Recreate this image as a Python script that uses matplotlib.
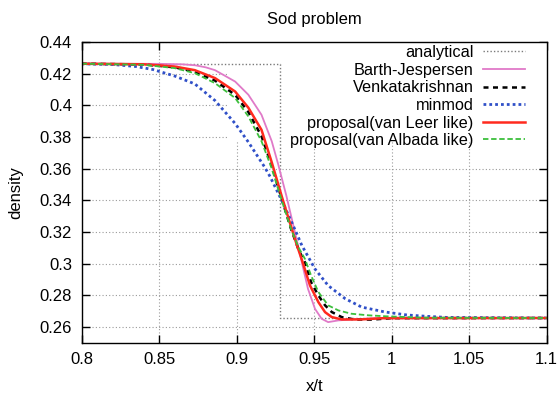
import matplotlib
matplotlib.use('Agg')
import matplotlib.pyplot as plt
from matplotlib.patches import Rectangle

plt.rcParams['font.family'] = ['Liberation Sans', 'DejaVu Sans']

# analytical solution
x_exact = [0.80, 0.9277, 0.9277, 1.10]
rho_exact = [0.4263, 0.4263, 0.2656, 0.2656]

# Barth-Jespersen
x_bj = [0.80, 0.85, 0.865, 0.8732, 0.880, 0.886, 0.899, 0.9075, 0.916, 0.9226, 0.9268, 0.932,
        0.938, 0.942, 0.946, 0.9505, 0.9548, 0.959, 0.9656, 0.976, 0.99, 1.10]
rho_bj = [0.4263, 0.4262, 0.4259, 0.4253, 0.4240, 0.4222, 0.4150, 0.4067, 0.3940, 0.3773, 0.3626, 0.3430,
          0.3180, 0.3008, 0.2840, 0.2714, 0.2651, 0.2630, 0.2641, 0.2648, 0.2655, 0.2656]

# Venkatakrishnan
x_vk = [0.80, 0.84, 0.86, 0.873, 0.886, 0.899, 0.9075, 0.916, 0.9226, 0.929, 0.935,
        0.940, 0.944, 0.948, 0.9527, 0.957, 0.9613, 0.9677, 0.9763, 0.987, 1.0, 1.10]
rho_vk = [0.4263, 0.4258, 0.4240, 0.4212, 0.4156, 0.4066, 0.3958, 0.3805, 0.3620, 0.3410, 0.3220,
          0.3085, 0.3008, 0.2882, 0.2799, 0.2736, 0.2694, 0.2662, 0.2646, 0.2646, 0.2655, 0.2656]

# minmod
x_mm = [0.80, 0.82, 0.835, 0.846, 0.86, 0.873, 0.886, 0.899, 0.9075, 0.918, 0.9215, 0.930,
        0.9387, 0.942, 0.9505, 0.959, 0.97, 0.9806, 0.9957, 1.01, 1.022, 1.035, 1.10]
rho_mm = [0.4262, 0.4258, 0.4245, 0.4226, 0.4185, 0.4135, 0.4030, 0.3885, 0.3768, 0.3610, 0.3550, 0.3380,
          0.3190, 0.3115, 0.2966, 0.2861, 0.2778, 0.2725, 0.2694, 0.2675, 0.2667, 0.2660, 0.2656]

# proposal (van Leer like)
x_vl = [0.80, 0.84, 0.86, 0.873, 0.886, 0.899, 0.9075, 0.916, 0.9226, 0.9292, 0.9333,
        0.9387, 0.942, 0.9473, 0.9527, 0.957, 0.9613, 0.9677, 0.98, 0.995, 1.10]
rho_vl = [0.4263, 0.4259, 0.4245, 0.4222, 0.4172, 0.4087, 0.3985, 0.3845, 0.3640, 0.3420, 0.3290,
          0.3120, 0.3025, 0.2861, 0.2756, 0.2693, 0.2662, 0.2647, 0.2647, 0.2655, 0.2656]

# proposal (van Albada like)
x_va = [0.80, 0.84, 0.86, 0.873, 0.886, 0.899, 0.9075, 0.916, 0.9226, 0.929, 0.935,
        0.940, 0.944, 0.948, 0.9527, 0.959, 0.9656, 0.974, 0.985, 0.996, 1.02, 1.10]
rho_va = [0.4263, 0.4256, 0.4235, 0.4203, 0.4140, 0.4046, 0.3930, 0.3773, 0.3600, 0.3400, 0.3220,
          0.3100, 0.3030, 0.2924, 0.2820, 0.2736, 0.2704, 0.2683, 0.2673, 0.2667, 0.2658, 0.2656]

xticks = [0.8, 0.85, 0.9, 0.95, 1.0, 1.05, 1.1]
xticklabels = ['0.8', '0.85', '0.9', '0.95', '1', '1.05', '1.1']
yticks = [0.26, 0.28, 0.30, 0.32, 0.34, 0.36, 0.38, 0.40, 0.42, 0.44]
yticklabels = ['0.26', '0.28', '0.3', '0.32', '0.34', '0.36', '0.38', '0.4', '0.42', '0.44']

fig = plt.figure(figsize=(5.58, 3.94), dpi=100)
ax = fig.add_axes([0.1464, 0.1302, 0.8334, 0.7632])

ax.plot(x_exact, rho_exact, color='#7a7a7a', lw=1.0, ls=(0, (1, 1.5)), label='analytical')
ax.plot(x_bj, rho_bj, color='#e07ac8', lw=1.3, label='Barth-Jespersen')
ax.plot(x_vk, rho_vk, color='black', lw=1.8, ls=(0, (2, 1.8)), label='Venkatakrishnan')
ax.plot(x_mm, rho_mm, color='#3050c8', lw=2.0, ls=(0, (1, 1.1)), label='minmod')
ax.plot(x_vl, rho_vl, color='#ff2a1e', lw=1.8, label='proposal(van Leer like)')
ax.plot(x_va, rho_va, color='#3cbf3c', lw=1.3, ls=(0, (3, 1.5)), label='proposal(van Albada like)')

ax.set_xlim(0.8, 1.1)
ax.set_ylim(0.25, 0.44)
ax.set_xticks(xticks)
ax.set_xticklabels(xticklabels)
ax.set_yticks(yticks)
ax.set_yticklabels(yticklabels)
ax.tick_params(direction='in', top=True, right=True, length=6, width=1,
               labelsize=12, pad=7)
for s in ax.spines.values():
    s.set_linewidth(1.0)

ax.set_axisbelow(True)
ax.grid(True, color='#9a9a9a', lw=0.8, ls=(0, (1, 2)))
# key area hides the grid (gnuplot style)
ax.add_patch(Rectangle((0.315, 0.667), 0.685, 0.333, transform=ax.transAxes,
                       facecolor='white', edgecolor='none', zorder=0.9))

ax.set_title('Sod problem', fontsize=12, pad=13)
ax.set_xlabel('x/t', fontsize=12, labelpad=8)
ax.set_ylabel('density', fontsize=12, labelpad=12)

ax.legend(loc='upper right', bbox_to_anchor=(0.975, 1.022), frameon=False,
          markerfirst=False, fontsize=11.7, labelspacing=0.16,
          handlelength=2.6, handletextpad=0.6, borderpad=0.1)

fig.savefig('out.png', dpi=100)
